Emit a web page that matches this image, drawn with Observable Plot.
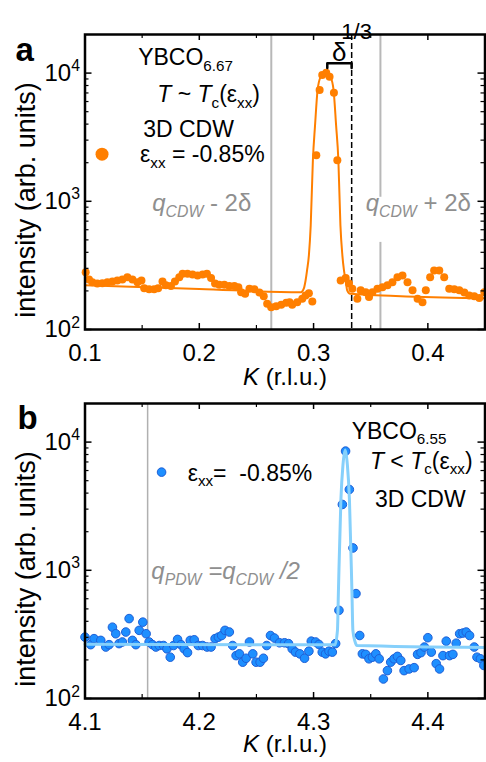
<!DOCTYPE html>
<html><head><meta charset="utf-8">
<script src="https://cdn.jsdelivr.net/npm/d3@7"></script>
<script src="https://cdn.jsdelivr.net/npm/@observablehq/plot@0.6"></script>
<style>
body{margin:0;background:#fff;}
#wrap{position:relative;width:486px;height:762px;background:#fff;}
#wrap svg{position:absolute;left:0;overflow:visible;}
text{white-space:pre;}
</style></head><body><div id="wrap"></div>
<script>
// ---------- Panel a data (YBCO6.67, orange) ----------
const aK = [0.1006,0.1035,0.1064,0.1108,0.1152,0.1196,0.124,0.1283,0.1327,0.1371,0.1415,0.1459,0.1494,0.1518,0.1561,0.1605,0.164,0.1678,0.1708,0.1752,0.1787,0.1825,0.1854,0.1897,0.1941,0.1985,0.2029,0.2067,0.2103,0.2138,0.2175,0.2219,0.2263,0.2307,0.2342,0.2366,0.2401,0.2439,0.2482,0.2526,0.2564,0.2594,0.2629,0.2673,0.2717,0.2761,0.279,0.2813,0.2857,0.2901,0.293,0.2959,0.2989,0.3024,0.3053,0.3076,0.3111,0.314,0.3178,0.3208,0.3237,0.3281,0.331,0.3339,0.3383,0.3412,0.3456,0.3485,0.3515,0.3559,0.3603,0.3647,0.369,0.3734,0.3778,0.3822,0.3866,0.391,0.3953,0.3982,0.402,0.4055,0.41,0.4143,0.4187,0.4231,0.4275,0.4319,0.4362,0.4406,0.445,0.4494];
const aI = [280,246,234,228,230,234,237,241,246,256,246,234,241,210,206,206,210,237,221,218,237,256,272,272,268,264,268,272,252,228,223,223,218,218,214,195,190,208,206,194,182,159,149,152,156,162,163,156,163,174,184,192,165,2288,7367,9644,10050,9354,7020,2091,241,252,228,208,174,202,195,179,195,208,214,221,234,256,264,234,202,174,163,202,256,289,289,256,208,206,202,194,184,182,176,195];
const aFitK = [0.1,0.2,0.289,0.2915,0.293,0.2943,0.2959,0.2975,0.2994,0.3013,0.3035,0.3061,0.3105,0.3149,0.3175,0.3197,0.3217,0.3235,0.3252,0.3266,0.3281,0.3294,0.332,0.45];
const aFitI = [221,207,195,209,241,289,379,649,2091,3926,7367,9305,10180,9305,7367,3926,2091,649,379,289,241,202,190,175];
// ---------- Panel b data (YBCO6.55, blue) ----------
const bK = [4.1,4.105,4.1079,4.1138,4.1182,4.1211,4.124,4.1269,4.1298,4.1327,4.1357,4.1386,4.1415,4.1445,4.1474,4.1506,4.1535,4.1561,4.159,4.162,4.1649,4.1687,4.1717,4.1746,4.1775,4.181,4.184,4.1868,4.1897,4.1921,4.1956,4.1991,4.2029,4.2068,4.2103,4.2138,4.2167,4.2196,4.2225,4.2263,4.2292,4.2322,4.2351,4.238,4.241,4.2439,4.2468,4.2497,4.2532,4.2561,4.259,4.2623,4.2658,4.2702,4.2746,4.2781,4.2813,4.2842,4.288,4.2921,4.2959,4.298,4.3018,4.3047,4.3076,4.3105,4.3135,4.3164,4.3193,4.3222,4.3252,4.328,4.3313,4.3345,4.3371,4.3404,4.3427,4.3456,4.3485,4.3515,4.3545,4.3574,4.3611,4.3646,4.3675,4.3704,4.3734,4.3763,4.3792,4.3836,4.388,4.391,4.394,4.397,4.4,4.403,4.4073,4.4102,4.4132,4.4161,4.419,4.4219,4.4248,4.4278,4.4307,4.4336,4.4365,4.4406,4.443,4.446,4.449];
const bI = [301,263,293,284,252,263,360,320,268,276,330,420,284,263,340,394,320,276,263,252,259,259,244,210,259,289,263,244,228,284,287,259,259,252,252,293,301,310,340,330,259,216,223,192,206,276,223,192,192,206,259,310,296,272,272,268,244,230,223,206,234,280,276,264,230,223,234,230,268,487,3262,8505,4270,1494,658,310,223,221,204,210,223,204,142,165,192,204,213,198,165,170,174,221,228,252,298,230,187,170,216,280,216,221,270,320,324,330,310,252,210,204,181];
const bFitK = [4.1,4.3187,4.3209,4.3217,4.3239,4.3257,4.3277,4.3296,4.3314,4.3336,4.3344,4.3362,4.338,4.45];
const bFitI = [265,262,340,660,3524,6610,8660,6610,3524,660,340,279,259,250];
// ---------- axes ----------
const aXTicks = [0.1,0.2,0.3,0.4];
const aXMinor = [0.15,0.25,0.35,0.45];
const bXTicks = [4.1,4.2,4.3,4.4];
const bXMinor = [4.15,4.25,4.35,4.45];
const yTicks = [100,1000,10000];
const yTickLabels = ["10^{2}","10^{3}","10^{4}"];
const yMinor = [200,300,400,500,600,700,800,900,2000,3000,4000,5000,6000,7000,8000,9000];

const orange = "#ff7f00", blueFill = "#1e8fff", blueStroke = "#1f5fd6", lightBlue = "#86d0fb";
const grayText = "#8f8f8f";
const font = "'Liberation Sans', Arial, Helvetica, sans-serif";
const W = 486, ML = 84.5, MR = 1.5, PW = W - ML - MR, PH = 295;
const yLabelMap = new Map(yTicks.map((t, i) => [t, yTickLabels[i]]));

const zip = (ks, is) => ks.map((k, i) => ({K: k, I: is[i]}));

function frameTicks(xT, xM) {
  return [
    Plot.ruleY(yTicks, {insetRight: PW - 7, stroke: "black", strokeWidth: 1.5}),
    Plot.ruleY(yTicks, {insetLeft: PW - 7, stroke: "black", strokeWidth: 1.5}),
    Plot.ruleY(yMinor, {insetRight: PW - 4, stroke: "black", strokeWidth: 1.2}),
    Plot.ruleY(yMinor, {insetLeft: PW - 4, stroke: "black", strokeWidth: 1.2}),
    Plot.ruleX(xT, {insetBottom: PH - 6, stroke: "black", strokeWidth: 1.5}),
    Plot.ruleX(xT, {insetTop: PH - 6, stroke: "black", strokeWidth: 1.5}),
    Plot.ruleX(xM, {insetBottom: PH - 4, stroke: "black", strokeWidth: 1.2}),
    Plot.ruleX(xM, {insetTop: PH - 4, stroke: "black", strokeWidth: 1.2}),
    Plot.frame({stroke: "black", strokeWidth: 2.5}),
    Plot.axisX({ticks: xT, tickSize: 0, tickPadding: 14, fontSize: 24, tickFormat: d => d.toFixed(1), label: null}),
    Plot.axisY({ticks: yTicks, tickSize: 0, tickPadding: 5, fontSize: 24, tickFormat: d => yLabelMap.get(d), label: null})
  ];
}

const pa = Plot.plot({
  width: W, height: 394, marginTop: 34, marginBottom: 65, marginLeft: ML, marginRight: MR,
  style: {fontFamily: font, background: "transparent", overflow: "visible", fontSize: "22px"},
  x: {domain: [0.1, 0.45]},
  y: {type: "log", domain: [100, 20000]},
  marks: [
    Plot.ruleX([0.263], {stroke: "#b8b8b8", strokeWidth: 2}),
    Plot.ruleX([0.3585], {y1: 20000, y2: 1075, stroke: "#b8b8b8", strokeWidth: 2}),
    Plot.ruleX([0.3585], {y1: 478, y2: 100, stroke: "#b8b8b8", strokeWidth: 2}),
    Plot.ruleX([1/3], {stroke: "black", strokeWidth: 1.5, strokeDasharray: "6,3"}),
    Plot.dot(zip(aK, aI), {x: "K", y: "I", r: 4, fill: orange}),
    Plot.line(zip(aFitK, aFitI), {x: "K", y: "I", stroke: orange, strokeWidth: 2, curve: "monotone-x"}),
    Plot.line([[0.312,10940],[0.312,11910],[0.3333,11910],[0.3333,10940]], {x: d => d[0], y: d => d[1], stroke: "black", strokeWidth: 2.5}),
    Plot.text(["δ"], {x: [0.3224], y: [14330], fontSize: 26, textAnchor: "middle"}),
    Plot.text(["1/3"], {x: [0.3377], frameAnchor: "top", dy: -11, fontSize: 22, textAnchor: "middle"}),
    Plot.text(["YBCO_{6.67}"], {x: [0.1465], y: [13100], fontSize: 23, textAnchor: "start"}),
    Plot.text(["*T* ~ *T*_{c}(ε_{xx})"], {x: [0.1632], y: [6770], fontSize: 23, textAnchor: "start"}),
    Plot.text(["3D CDW"], {x: [0.1509], y: [3650], fontSize: 23, textAnchor: "start"}),
    Plot.dot([0], {x: [0.1149], y: [2330], r: 6.5, fill: orange}),
    Plot.text(["ε_{xx} = -0.85%"], {x: [0.1482], y: [2300], fontSize: 23, textAnchor: "start"}),
    Plot.text(["*q*_{*CDW*} - 2δ"], {x: [0.1588], y: [965], fontSize: 24, textAnchor: "start", fill: grayText}),
    Plot.text(["*q*_{*CDW*} + 2δ"], {x: [0.3456], y: [965], fontSize: 24, textAnchor: "start", fill: grayText}),
    Plot.text(["*K* (r.l.u.)"], {frameAnchor: "bottom", dy: 55, fontSize: 24, textAnchor: "middle"}),
    Plot.text(["intensity (arb. units)"], {frameAnchor: "left", dx: -59, dy: 18, rotate: -90, fontSize: 27, textAnchor: "middle"}),
    Plot.text(["a"], {frameAnchor: "top-left", dx: -69.5, dy: 3, fontSize: 33, fontWeight: "bold", textAnchor: "start"}),
    ...frameTicks(aXTicks, aXMinor)
  ]
});

const pb = Plot.plot({
  width: W, height: 368, marginTop: 9, marginBottom: 64, marginLeft: ML, marginRight: MR,
  style: {fontFamily: font, background: "transparent", overflow: "visible", fontSize: "22px"},
  x: {domain: [4.1, 4.45]},
  y: {type: "log", domain: [100, 20000]},
  marks: [
    Plot.ruleX([4.1548], {stroke: "#b0b0b0", strokeWidth: 1.5}),
    Plot.dot(zip(bK, bI), {x: "K", y: "I", r: 4.3, fill: blueFill, stroke: blueStroke, strokeWidth: 1}),
    Plot.line(zip(bFitK, bFitI), {x: "K", y: "I", stroke: lightBlue, strokeWidth: 3, curve: "monotone-x"}),
    Plot.text(["YBCO_{6.55}"], {x: [4.3333], y: [12130], fontSize: 23, textAnchor: "start"}),
    Plot.text(["*T* < *T*_{c}(ε_{xx})"], {x: [4.3493], y: [7070], fontSize: 23, textAnchor: "start"}),
    Plot.text(["3D CDW"], {x: [4.3537], y: [3543], fontSize: 23, textAnchor: "start"}),
    Plot.dot([0], {x: [4.167], y: [5830], r: 4.3, fill: blueFill, stroke: blueStroke, strokeWidth: 1}),
    Plot.text(["ε_{xx}=\u00a0 -0.85%"], {x: [4.1898], y: [5726], fontSize: 23, textAnchor: "start"}),
    Plot.text(["*q*_{*PDW*}* =q*_{*CDW*}* /2*"], {x: [4.158], y: [982], fontSize: 24, textAnchor: "start", fill: grayText}),
    Plot.text(["*K* (r.l.u.)"], {frameAnchor: "bottom", dy: 53, fontSize: 24, textAnchor: "middle"}),
    Plot.text(["intensity (arb. units)"], {frameAnchor: "left", dx: -59, dy: 18, rotate: -90, fontSize: 27, textAnchor: "middle"}),
    Plot.text(["b"], {frameAnchor: "top-left", dx: -67.5, dy: 2, fontSize: 33, fontWeight: "bold", textAnchor: "start"}),
    ...frameTicks(bXTicks, bXMinor)
  ]
});

// rich text: *italic*, _{sub}, ^{sup}
const NS = "http://www.w3.org/2000/svg";
function richify(svg) {
  svg.querySelectorAll("text").forEach(t => {
    if (t.querySelector("tspan")) return;
    const s = t.textContent;
    if (!/[_^]\{|\*/.test(s)) return;
    let fs = 22;
    const g = t.closest("[font-size]");
    if (g) fs = parseFloat(g.getAttribute("font-size"));
    if (t.getAttribute("font-size")) fs = parseFloat(t.getAttribute("font-size"));
    t.textContent = "";
    let italic = false, shift = 0, i = 0;
    const add = (str, o = {}) => {
      const sp = document.createElementNS(NS, "tspan");
      sp.textContent = str;
      if (italic || o.italic) sp.setAttribute("font-style", "italic");
      const target = o.shift || 0;
      const dy = target - shift;
      if (dy) sp.setAttribute("dy", dy.toFixed(2));
      shift = target;
      if (o.small) sp.setAttribute("font-size", (fs * 0.66).toFixed(1));
      t.appendChild(sp);
    };
    while (i < s.length) {
      const c = s[i];
      if (c === "*") { italic = !italic; i++; continue; }
      if ((c === "_" || c === "^") && s[i + 1] === "{") {
        const e = s.indexOf("}", i);
        let inner = s.slice(i + 2, e), it = false;
        if (inner.startsWith("*") && inner.endsWith("*")) { it = true; inner = inner.slice(1, -1); }
        add(inner, {small: true, shift: c === "_" ? fs * 0.24 : -fs * 0.4, italic: it});
        i = e + 1; continue;
      }
      let j = i;
      while (j < s.length && s[j] !== "*" && !((s[j] === "_" || s[j] === "^") && s[j + 1] === "{")) j++;
      add(s.slice(i, j));
      i = j;
    }
  });
}
richify(pa); richify(pb);
pa.style.top = "0px";
pb.style.top = "394px";
const wrap = document.getElementById("wrap");
wrap.appendChild(pa);
wrap.appendChild(pb);
</script>
</body></html>
